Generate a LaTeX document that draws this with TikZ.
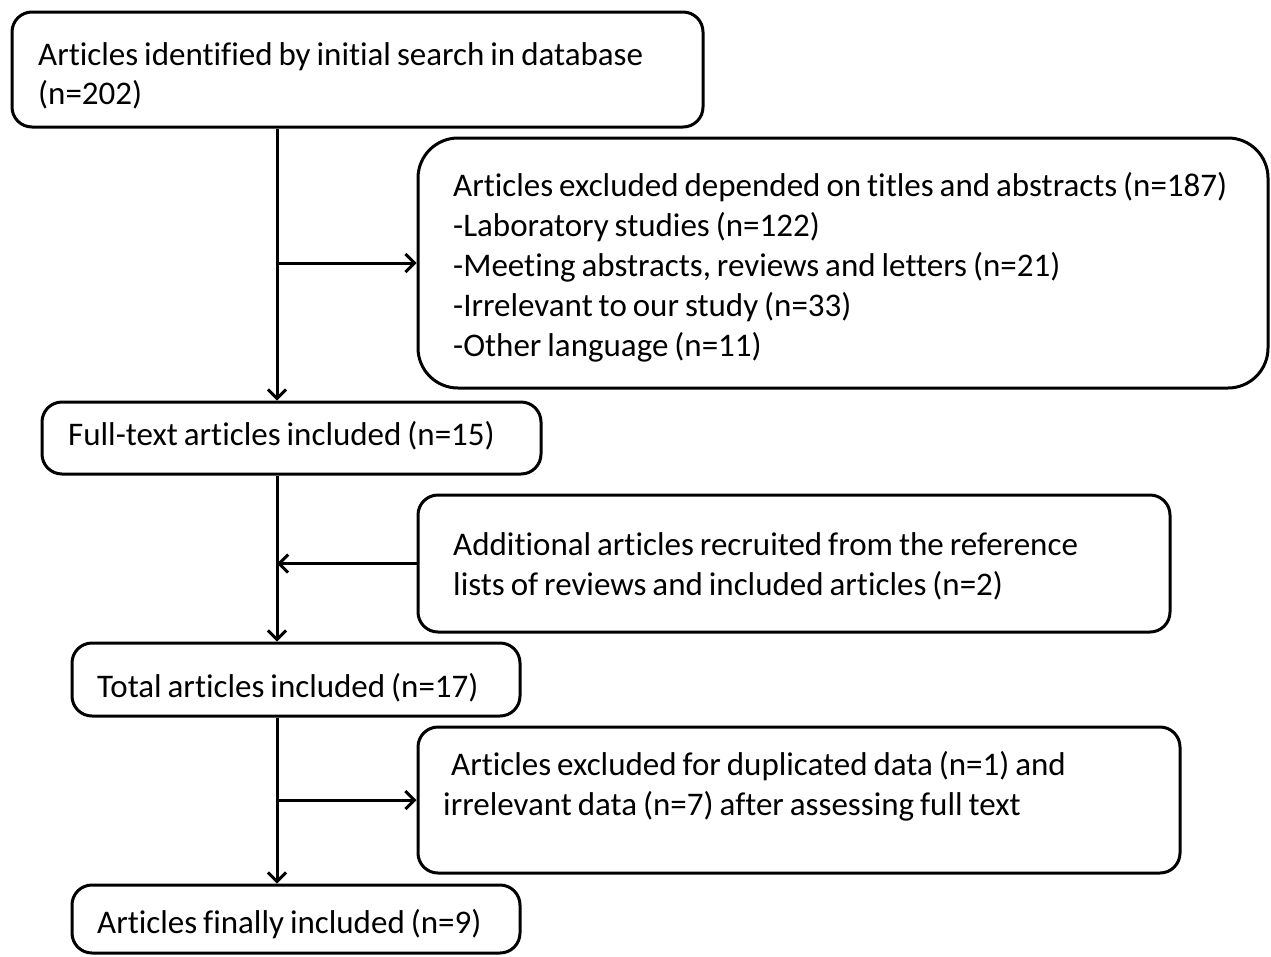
\documentclass[tikz,border=0pt]{standalone}
\usepackage{fontspec}
\setmainfont{Carlito}[Ligatures={NoCommon},WordSpace=0.8]
\usetikzlibrary{arrows.meta}
\begin{document}
\begin{tikzpicture}[x=1pt,y=-1pt,
  box/.style={draw=black,line width=3pt,rounded corners=20pt,minimum width=#1,inner sep=0pt},
  lbl/.style={anchor=base west,inner sep=0pt,font=\fontsize{33}{40}\selectfont},
  conn/.style={line width=3pt,-{Straight Barb[length=9pt,width=18pt,line width=3pt]}}]
\useasboundingbox (0,0) rectangle (1271,956);
% boxes
\node[box=691pt,minimum height=115pt] (A) at (357.5,69.5) {};
\node[box=850pt,minimum height=250pt,rounded corners=40pt] (B) at (843,263) {};
\node[box=499pt,minimum height=72pt] (C) at (291.5,438) {};
\node[box=752pt,minimum height=137pt] (D) at (794,563.5) {};
\node[box=448pt,minimum height=73pt] (E) at (296,679.5) {};
\node[box=762pt,minimum height=146pt] (F) at (799,800) {};
\node[box=448pt,minimum height=68pt] (G) at (296,919) {};
% texts
\node[lbl] (tA1) at (38,65) {Articles identified by initial search in database};
\node[lbl] (tA2) at (38,104) {(n=202)};
\node[lbl] (tB1) at (453,196) {Articles excluded depended on titles and abstracts (n=187)};
\node[lbl] (tB2) at (453,236) {-Laboratory studies (n=122)};
\node[lbl] (tB3) at (453,276) {-Meeting abstracts, reviews and letters (n=21)};
\node[lbl] (tB4) at (453,316) {-Irrelevant to our study (n=33)};
\node[lbl] (tB5) at (453,356) {-Other language (n=11)};
\node[lbl] (tC) at (68,445) {Full-text articles included (n=15)};
\node[lbl] (tD1) at (453,555) {Additional articles recruited from the reference};
\node[lbl] (tD2) at (453,595) {lists of reviews and included articles (n=2)};
\node[lbl] (tE) at (97,697) {Total articles included (n=17)};
\node[lbl] (tF1) at (451,775) {Articles excluded for duplicated data (n=1) and};
\node[lbl] (tF2) at (443,815) {irrelevant data (n=7) after assessing full text};
\node[lbl] (tG) at (97,933) {Articles finally included (n=9)};
% spine
\coordinate (s) at (277,0);
\draw[conn] (s |- A.south) -- (s |- C.north);
\draw[conn] (s |- C.south) -- (s |- E.north);
\draw[conn] (s |- E.south) -- (s |- G.north);
\draw[conn] (s |- B.west) -- (B.west);
\draw[conn] (D.west) -- (s |- D.west);
\draw[conn] (s |- F.west) -- (F.west);
\end{tikzpicture}
\end{document}
